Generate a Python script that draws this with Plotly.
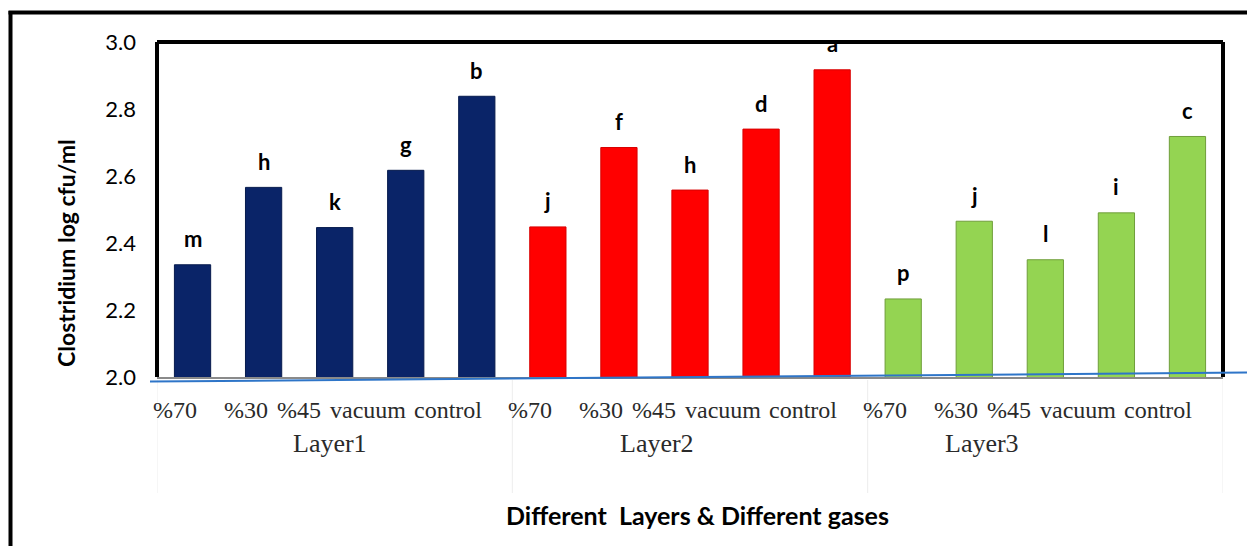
import plotly.graph_objects as go

layers = ["Layer1"] * 5 + ["Layer2"] * 5 + ["Layer3"] * 5
gases = ["%70", "%30", "%45", "vacuum", "control"] * 3
layer_names = ["Layer1", "Layer2", "Layer3"]
values = [2.335, 2.566, 2.446, 2.617, 2.838,
          2.448, 2.685, 2.558, 2.740, 2.917,
          2.233, 2.465, 2.350, 2.490, 2.718]
letters = ["m", "h", "k", "g", "b",
           "j", "f", "h", "d", "a",
           "p", "j", "l", "i", "c"]
y_ticks = [2.0, 2.2, 2.4, 2.6, 2.8, 3.0]

# styling
layer_colors = {"Layer1": "#0a2468", "Layer2": "#ff0000", "Layer3": "#94d452"}
layer_edges = {"Layer1": "#061a4d", "Layer2": "#d80000", "Layer3": "#6f9e3a"}
gas_label_shift = [-18, -18, -36, -38, -29]     # px, as laid out in the original
layer_label_shift = [-5, -33, -63]              # px

W, H = 1247, 546
L, R, T, B = 157, 24, 42, 169
PW, PH = W - L - R, H - T - B


def px(x):
    return (x - L) / PW


def py(y):
    return (H - B - y) / PH


fig = go.Figure()
fig.add_trace(go.Bar(
    x=[layers, gases],
    y=values,
    marker=dict(color=[layer_colors[l] for l in layers],
                line=dict(color=[layer_edges[l] for l in layers], width=1)),
    width=0.51,
    hoverinfo="y",
))

annotations = []
letter_font = dict(family="Lato", size=22, color="#000000", weight="bold")
for i, (v, t) in enumerate(zip(values, letters)):
    annotations.append(dict(
        x=i, y=v, xref="x", yref="y", text=t, showarrow=False,
        yanchor="middle", yshift=26, font=letter_font,
    ))

gas_font = dict(family="Liberation Serif", size=24, color="#2a2a2a")
layer_font = dict(family="Liberation Serif", size=26, color="#2a2a2a")
for i, g in enumerate(gases):
    annotations.append(dict(
        x=i, y=py(410), xref="x", yref="paper", text=g, showarrow=False,
        xanchor="center", yanchor="middle",
        xshift=gas_label_shift[i % 5], font=gas_font,
    ))
for k, name in enumerate(layer_names):
    annotations.append(dict(
        x=5 * k + 2, y=py(443), xref="x", yref="paper", text=name,
        showarrow=False, xanchor="center", yanchor="middle",
        xshift=layer_label_shift[k], font=layer_font,
    ))

annotations.append(dict(
    x=px(50), y=py(253), xref="paper", yref="paper",
    text="Clostridium log cfu/ml", textangle=-90, showarrow=False,
    font=dict(family="Lato", size=23, color="#000000", weight="bold"),
))
annotations.append(dict(
    x=px(697), y=py(532), xref="paper", yref="paper",
    text="Different  Layers &amp; Different gases", showarrow=False,
    font=dict(family="Lato", size=25, color="#000000", weight="bold"),
))

shapes = [
    # outer frame
    dict(type="line", xref="paper", yref="paper", x0=px(10.5), x1=px(10.5),
         y0=py(11), y1=py(546), line=dict(color="#000000", width=4)),
    dict(type="line", xref="paper", yref="paper", x0=px(8.5), x1=px(1247),
         y0=py(12.5), y1=py(12.5), line=dict(color="#000000", width=4)),
    # plot box (left, top, right)
    dict(type="line", xref="paper", yref="paper", x0=0, x1=0,
         y0=0, y1=1, line=dict(color="#000000", width=4)),
    dict(type="line", xref="paper", yref="paper", x0=0, x1=1,
         y0=1, y1=1, line=dict(color="#000000", width=4)),
    dict(type="line", xref="paper", yref="paper", x0=1, x1=1,
         y0=0, y1=1, line=dict(color="#000000", width=4)),
]
# faint group dividers below the axis
for k in range(len(layer_names) + 1):
    shapes.append(dict(
        type="line", xref="x", yref="paper", x0=5 * k - 0.5, x1=5 * k - 0.5,
        y0=py(380), y1=py(493), line=dict(color="#ededed", width=1),
    ))
# blue baseline
shapes.append(dict(type="line", xref="paper", yref="paper", x0=px(150), x1=px(1247),
                   y0=py(381.5), y1=py(372.5), line=dict(color="#2e75c8", width=2)))

fig.update_layout(
    width=W, height=H,
    margin=dict(l=L, r=R, t=T, b=B),
    paper_bgcolor="#ffffff", plot_bgcolor="#ffffff",
    showlegend=False,
    bargap=0.49,
    annotations=annotations,
    shapes=shapes,
    xaxis=dict(
        type="multicategory",
        range=[-0.5, len(values) - 0.5],
        autorange=False,
        showgrid=False,
        showline=True, linecolor="#8a8a8a", linewidth=2,
        showticklabels=False,
        showdividers=False,
        ticks="",
    ),
    yaxis=dict(
        range=[2.0, 3.0],
        tickvals=y_ticks,
        tickformat=".1f",
        showgrid=False, zeroline=False,
        showline=False,
        ticks="",
        ticklabelstandoff=20,
        tickfont=dict(family="Lato", size=22, color="#000000"),
    ),
    font=dict(family="Lato"),
)

fig.write_html("out.html")
